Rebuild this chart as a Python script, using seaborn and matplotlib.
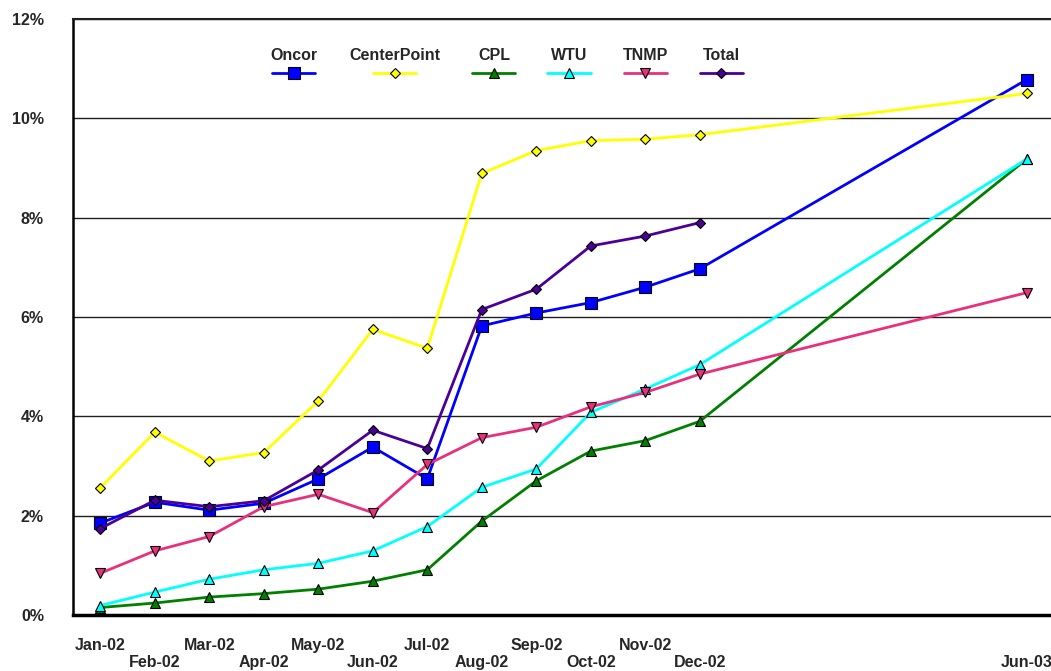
import matplotlib
matplotlib.use('Agg')
import matplotlib.pyplot as plt
from matplotlib.offsetbox import VPacker
import seaborn as sns

# month index from Jan-02 (Jun-03 sits 17 months out)
month_idx = [0, 1, 2, 3, 4, 5, 6, 7, 8, 9, 10, 11, 17]
month_lbl = ['Jan-02', 'Feb-02', 'Mar-02', 'Apr-02', 'May-02', 'Jun-02', 'Jul-02',
             'Aug-02', 'Sep-02', 'Oct-02', 'Nov-02', 'Dec-02', 'Jun-03']

# values in percent
oncor = [1.85, 2.27, 2.11, 2.25, 2.74, 3.38, 2.74, 5.82, 6.08, 6.29, 6.60, 6.97, 10.78]
centerpoint = [2.56, 3.68, 3.10, 3.27, 4.31, 5.75, 5.37, 8.89, 9.35, 9.55, 9.58, 9.67, 10.50]
cpl = [0.15, 0.24, 0.36, 0.43, 0.52, 0.68, 0.91, 1.89, 2.70, 3.30, 3.51, 3.90, 9.18]
wtu = [0.19, 0.46, 0.72, 0.91, 1.04, 1.29, 1.78, 2.57, 2.94, 4.08, 4.55, 5.04, 9.18]
tnmp = [0.84, 1.29, 1.58, 2.18, 2.43, 2.06, 3.03, 3.57, 3.78, 4.19, 4.48, 4.85, 6.49]
total = [1.74, 2.31, 2.18, 2.30, 2.92, 3.72, 3.35, 6.15, 6.56, 7.43, 7.63, 7.90]

series = {'Oncor': oncor, 'CenterPoint': centerpoint, 'CPL': cpl,
          'WTU': wtu, 'TNMP': tnmp, 'Total': total}
styles = {'Oncor': ('#0000FF', 's', 8.5),
          'CenterPoint': ('#FFFF00', 'D', 5),
          'CPL': ('#008000', '^', 7),
          'WTU': ('#00FFFF', '^', 7),
          'TNMP': ('#E8307C', 'v', 7),
          'Total': ('#4B0096', 'D', 5)}

sns.set_style('white')
plt.rcParams['font.family'] = ['Liberation Sans', 'DejaVu Sans']
plt.rcParams['font.weight'] = 'bold'

fig = plt.figure(figsize=(10.51, 6.71), dpi=100)
ax = fig.add_axes([0.0695, 0.0835, 0.9334, 0.8882])

for name, vals in series.items():
    c, m, ms = styles[name]
    sns.lineplot(x=month_idx[:len(vals)], y=vals, ax=ax, color=c, marker=m,
                 markersize=ms, markeredgecolor='black', markeredgewidth=0.8,
                 linewidth=2, label=name)

ax.set_xlim(-0.5, 17.5)
ax.set_ylim(0, 12)
ax.set_yticks(range(0, 13, 2))
ax.set_yticklabels(['{}%'.format(v) for v in range(0, 13, 2)], fontsize=11.5, fontweight='bold')
ax.set_xticks(month_idx)
ax.set_xticklabels([l if i % 2 == 0 else '\n' + l for i, l in zip(month_idx, month_lbl)],
                   fontsize=11.5, fontweight='bold')
ax.tick_params(axis='y', length=0, pad=21)
ax.tick_params(axis='x', length=0, pad=16.5)
ax.yaxis.grid(True, color='#202020', linewidth=1)
ax.set_xlabel('')
ax.set_ylabel('')

ax.spines['right'].set_visible(False)
ax.spines['left'].set_color('black')
ax.spines['left'].set_linewidth(1.8)
ax.spines['bottom'].set_color('black')
ax.spines['bottom'].set_linewidth(2.5)
ax.spines['top'].set_color('#202020')
ax.spines['top'].set_linewidth(1.5)

leg = ax.legend(ncol=6, loc='upper center', bbox_to_anchor=(0.442, 0.962), frameon=False,
                markerfirst=False, handlelength=2.7, columnspacing=2.0, borderaxespad=0,
                prop=dict(weight='bold', size=11.5))
# put each label above its line sample
for col in leg._legend_handle_box.get_children():
    col.align = 'center'
    for item in col.get_children():
        item.__class__ = VPacker
        item.align = 'center'
        item.sep = 3

fig.savefig('out.png', dpi=100)
